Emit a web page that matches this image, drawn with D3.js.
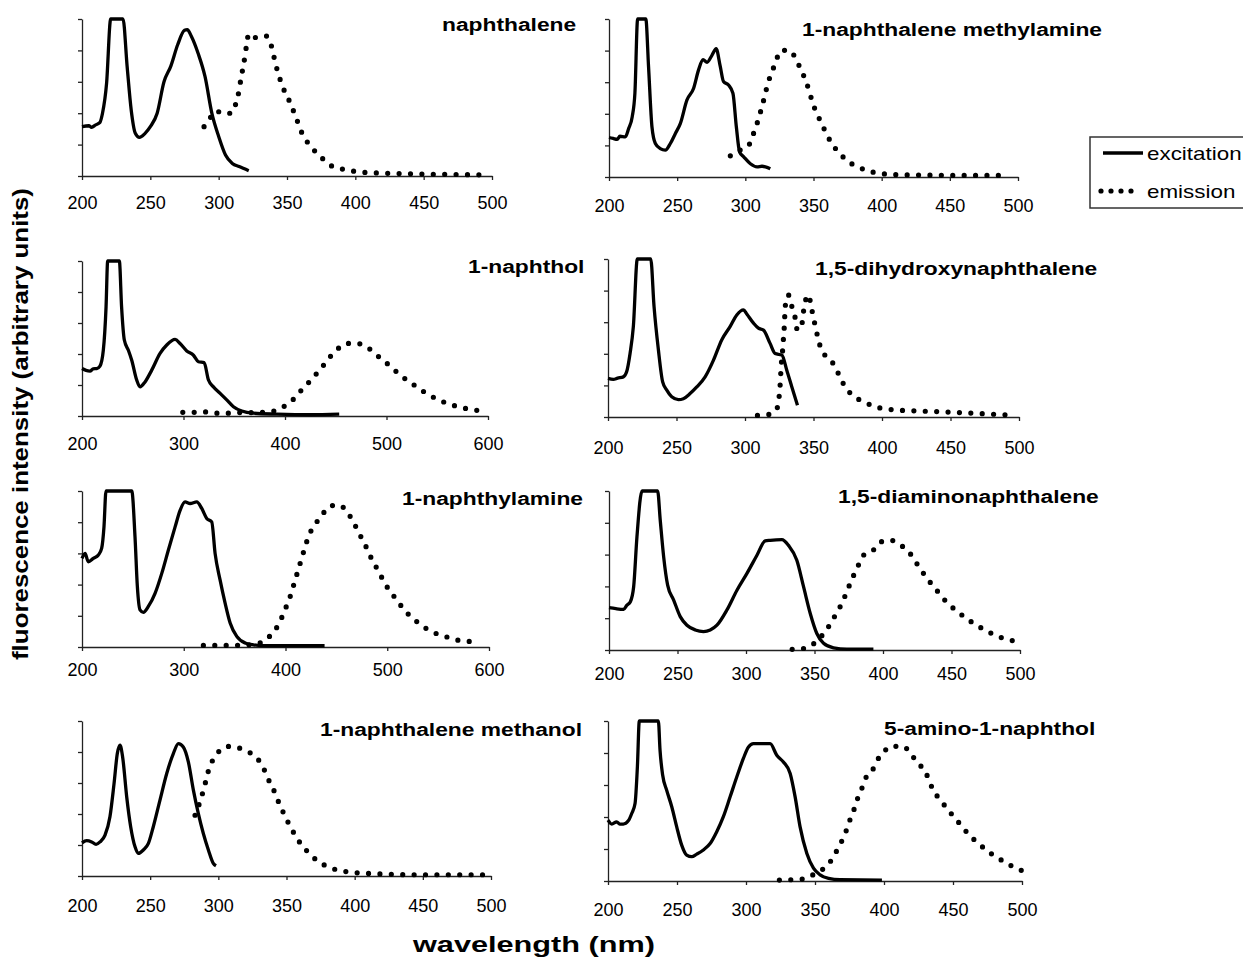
<!DOCTYPE html>
<html>
<head>
<meta charset="utf-8">
<script src="https://cdn.jsdelivr.net/npm/d3@7"></script>
<style>
body { margin: 0; background: #fff; }
text { font-family: "Liberation Sans", Arial, sans-serif; }
</style>
</head>
<body>
<svg id="chart" width="1243" height="963"></svg>
<script>
// spectra: [wavelength nm, intensity 0..5]
const naphthaleneEx = [[200,1.57],[205,1.6],[207,1.55],[210,1.63],[213,1.7],[215,2.0],[218,2.96],[221,5],[230,5],[233,3.5],[236,2.1],[239,1.36],[242,1.23],[246,1.35],[250,1.57],[255,2.0],[260,3.0],[265,3.5],[270,4.18],[275,4.64],[277,4.66],[280,4.45],[285,3.9],[290,3.17],[295,2.0],[300,1.26],[305,0.67],[310,0.4],[315,0.3],[322,0.17]];
const naphthaleneEm = [[289.3,1.57],[294.1,1.87],[298,2.07],[304,1.98],[310,2.02],[313,2.38],[315,2.74],[316.3,3.1],[317.8,3.45],[319.3,3.83],[320.5,4.2],[322,4.53],[327,4.41],[334,4.47],[338,4.23],[340,3.88],[342,3.51],[344.4,3.15],[347,2.82],[350.7,2.49],[354,2.15],[357,1.82],[360,1.46],[364,1.14],[369,0.86],[375,0.6],[381,0.36],[389,0.24],[397.6,0.16],[405.6,0.12],[414,0.1],[430,0.08],[450,0.06],[470,0.05],[498,0.03]];

const methylamineEx = [[200,1.25],[203,1.22],[206,1.19],[208,1.29],[212,1.27],[214.4,1.53],[217,1.9],[219,2.65],[221,5],[227,5],[229,3.5],[231.5,1.59],[234,1.06],[237.6,0.9],[241.3,0.85],[245,1.06],[248.7,1.38],[252.3,1.69],[257.2,2.44],[262,2.8],[265.7,3.39],[269,3.71],[271.9,3.63],[275.5,3.85],[278.6,4.06],[281.6,3.5],[284,3.02],[287.7,2.91],[290.9,2.65],[293.4,1.59],[295.8,0.79],[298.8,0.64],[303.7,0.42],[308.6,0.32],[312.2,0.34],[318.3,0.26]];
const methylamineEm = [[289,0.67],[296,0.85],[302.4,1.0],[305.6,1.33],[308.5,1.68],[311,2.04],[313.2,2.39],[315.2,2.74],[317.4,3.08],[319.8,3.35],[322.5,3.68],[326.4,4.01],[332.5,4.0],[337.4,3.71],[340.8,3.39],[344.3,3.05],[347,2.7],[349.4,2.34],[352.6,2.0],[356.2,1.67],[359.9,1.33],[364,1.02],[368.9,0.77],[374.6,0.51],[381.9,0.34],[389.2,0.2],[398.3,0.12],[406.4,0.08],[430,0.06],[460,0.05],[491,0.05]];

const naphtholEx = [[200,1.53],[204,1.47],[207.9,1.45],[211,1.52],[214.5,1.53],[217.7,1.61],[221,2.12],[223.7,3.52],[225.3,5],[236.8,5],[239,3.52],[241.7,2.45],[245.7,2.12],[249,1.8],[253.9,1.16],[257.2,0.94],[262.1,1.1],[268.7,1.48],[276.9,2.02],[283.5,2.29],[291.7,2.47],[296.6,2.34],[303.2,2.1],[309.8,1.96],[314.7,1.75],[320.3,1.72],[324.6,1.16],[329.5,0.94],[336.1,0.73],[342.6,0.52],[349.2,0.3],[357.4,0.16],[368.9,0.09],[391.9,0.06],[424.8,0.04],[453.4,0.06]];
const naphtholEm = [[299.3,0.12],[310.4,0.12],[321.6,0.13],[332.8,0.09],[344,0.09],[355.1,0.11],[366.3,0.11],[377.5,0.12],[388.7,0.16],[398.5,0.3],[407.7,0.52],[415,0.79],[422.5,1.05],[430.1,1.33],[437.3,1.61],[443.9,1.89],[451.8,2.16],[461,2.34],[470.8,2.34],[480.7,2.23],[488.9,2.0],[497.1,1.79],[506,1.54],[514.2,1.3],[523.4,1.09],[532.3,0.88],[541.5,0.69],[551.4,0.52],[561.5,0.39],[572.7,0.28],[583.6,0.21],[594.4,0.16]];

const dihydroxyEx = [[200,1.22],[203.9,1.19],[207,1.23],[211.2,1.27],[213.6,1.43],[216.1,2.01],[218.5,2.86],[221.4,5],[231.2,5],[233.6,3.5],[236.8,2.12],[239.9,1.11],[242.9,0.85],[246.5,0.64],[251.4,0.55],[255,0.58],[259.9,0.74],[264.8,0.95],[270.9,1.27],[277,1.8],[283,2.44],[289.1,2.86],[294,3.23],[298.9,3.39],[301.3,3.26],[306.2,2.97],[309.8,2.81],[313.5,2.75],[318.3,2.33],[322,2.01],[326.9,1.96],[330.5,1.48],[334.2,0.95],[338.3,0.37]];
const dihydroxyEm = [[309.1,0.05],[317.4,0.08],[323.2,0.26],[324.9,0.64],[325.6,0.98],[326.1,1.38],[326.6,1.72],[327.3,2.03],[328,2.44],[328.6,2.8],[329,3.18],[329.5,3.54],[331.7,3.86],[334.2,3.5],[336.6,3.14],[337.8,2.8],[340.7,2.77],[342.2,3.14],[343.2,3.5],[346.4,3.86],[348.3,3.5],[350,3.14],[351.7,2.8],[353.6,2.44],[356.1,2.09],[361.4,1.85],[366.1,1.57],[369.5,1.24],[373.6,0.93],[379.2,0.66],[386.5,0.49],[393.8,0.34],[402.1,0.26],[410.4,0.22],[426.9,0.19],[452.3,0.15],[475,0.1],[495.1,0.06]];

const naphthylamineEx = [[200,2.84],[203,3.0],[206.2,2.73],[211.1,2.84],[216.1,2.95],[219.3,3.16],[221.6,3.85],[223.6,5],[248.9,5],[252.1,3.53],[254.4,1.94],[257,1.19],[260.3,1.11],[265.2,1.3],[271.8,1.72],[278.4,2.36],[284.9,3.11],[291.5,3.85],[296.4,4.38],[301.3,4.65],[306.2,4.6],[312.8,4.65],[317.7,4.44],[322.6,4.12],[327.5,4.01],[330.8,3.0],[335.7,2.15],[340.7,1.4],[345.6,0.77],[352.1,0.34],[360.3,0.13],[368.5,0.07],[381.6,0.04],[438.4,0.04]];
const naphthylamineEm = [[319.3,0.05],[341.6,0.05],[363.9,0.07],[375.1,0.13],[384.3,0.34],[391.1,0.61],[396.4,0.95],[400.7,1.29],[404.6,1.62],[407.9,1.97],[411.1,2.32],[414.4,2.68],[417.7,3.04],[421,3.39],[424.9,3.71],[430.8,4.01],[437.4,4.3],[444.9,4.53],[453.8,4.54],[458.7,4.4],[464.6,4.13],[469.8,3.81],[474.8,3.49],[480,3.16],[484.6,2.83],[489.8,2.52],[495.1,2.2],[500.7,1.88],[507.2,1.6],[514.1,1.3],[521.3,1.03],[529.5,0.8],[538,0.6],[547.5,0.44],[558.7,0.32],[569.2,0.22],[580,0.18],[591.5,0.13]];

const diaminoEx = [[200,1.33],[205,1.3],[210.7,1.28],[213.1,1.41],[215.6,1.52],[218,1.99],[220.4,3.56],[224.1,5],[235.5,5],[237.4,4.08],[239.9,2.93],[242.8,2.04],[247.2,1.57],[252,1.05],[256.9,0.78],[263,0.63],[269,0.58],[273.9,0.63],[278.8,0.78],[286.1,1.26],[293.4,1.88],[300.7,2.41],[308,2.98],[314,3.43],[317.7,3.45],[326.2,3.47],[331,3.29],[337.1,2.82],[342,1.99],[346.9,1.15],[351.7,0.52],[356.6,0.21],[363.9,0.07],[373.6,0.03],[393,0.03]];
const diaminoEm = [[333.7,0.02],[342.5,0.05],[349.8,0.21],[355.4,0.45],[360.2,0.73],[364.6,1.05],[368.7,1.36],[372.4,1.71],[375.5,2.04],[378.9,2.38],[382.3,2.69],[386,2.99],[389,3.05],[392.6,3.13],[397.9,3.39],[405.7,3.45],[412.7,3.3],[418.6,3.1],[423.4,2.8],[428.1,2.5],[432.9,2.21],[438.3,1.93],[443.6,1.64],[449,1.4],[455.5,1.17],[461.9,0.96],[468.7,0.77],[476.2,0.59],[483.5,0.43],[491.8,0.33],[499.5,0.23]];

const methanolEx = [[200,1.07],[203.4,1.14],[207.1,1.1],[210.3,1.02],[213.2,1.1],[216.9,1.32],[220.5,1.91],[223.5,2.98],[225.9,3.95],[227.9,4.22],[229.8,3.84],[232.8,2.55],[235.7,1.59],[238.9,0.94],[241.3,0.73],[245,0.84],[248.7,1.05],[252.3,1.59],[257.2,2.45],[262.1,3.3],[267,3.95],[270.7,4.27],[274.3,4.16],[278,3.68],[281.7,2.77],[285.3,2.02],[289,1.37],[292.7,0.84],[296.3,0.41],[298.3,0.33]];
const methanolEm = [[282.9,1.96],[286.1,2.34],[288.5,2.68],[290.7,3.04],[292.7,3.39],[295.8,3.73],[300.7,4.03],[306.8,4.18],[314.2,4.14],[320.8,4.03],[326.9,3.86],[331,3.65],[334.5,3.35],[337.9,3.0],[341.6,2.68],[344.7,2.33],[348.2,2.0],[352.1,1.65],[356.2,1.33],[360.6,1.03],[366.3,0.75],[372.1,0.51],[378.9,0.33],[386.8,0.2],[395.6,0.13],[412.2,0.08],[445.5,0.04],[495.6,0.04]];

const aminoNaphtholEx = [[200,1.9],[202.7,1.78],[206.3,1.85],[208.5,1.78],[211.1,1.78],[214.7,1.88],[217.2,2.11],[219.6,2.42],[221.3,3.57],[222.7,5],[236.5,5],[237.7,4.09],[239.6,3.31],[242.5,2.84],[246.2,2.32],[249.8,1.69],[253.4,1.12],[257,0.81],[260.7,0.76],[264.3,0.84],[269.1,0.97],[274,1.17],[278.8,1.54],[283.6,2.01],[288.5,2.63],[293.3,3.25],[298.1,3.83],[301.8,4.19],[305.4,4.29],[317.5,4.29],[322.3,3.93],[327.1,3.72],[332,3.36],[335.6,2.63],[339.2,1.69],[344.1,0.86],[348.9,0.4],[353.7,0.19],[359.8,0.08],[368.2,0.04],[398.5,0.03]];
const aminoNaphtholEm = [[324.2,0.03],[340.7,0.06],[348.4,0.19],[355.7,0.37],[361,0.6],[365.3,0.91],[369.2,1.23],[372.6,1.57],[375.5,1.93],[378.4,2.25],[380.8,2.57],[384,2.9],[386.9,3.23],[391.2,3.42],[394.3,3.71],[399.7,4.03],[405.7,4.21],[413,4.21],[419,4.02],[423.8,3.7],[429.9,3.43],[433,3.1],[435.9,2.82],[440.8,2.54],[446.1,2.24],[451.6,1.96],[457.2,1.67],[462.5,1.4],[468.6,1.18],[474.6,0.94],[481.9,0.75],[488.6,0.55],[495.4,0.42],[500,0.32]];

const titles = ["naphthalene", "1-naphthalene methylamine", "1-naphthol", "1,5-dihydroxynaphthalene",
  "1-naphthylamine", "1,5-diaminonaphthalene", "1-naphthalene methanol", "5-amino-1-naphthol"];
const xMaxes = [500, 500, 600, 500, 600, 500, 500, 500];
const excitation = [naphthaleneEx, methylamineEx, naphtholEx, dihydroxyEx, naphthylamineEx, diaminoEx, methanolEx, aminoNaphtholEx];
const emission = [naphthaleneEm, methylamineEm, naphtholEm, dihydroxyEm, naphthylamineEm, diaminoEm, methanolEm, aminoNaphtholEm];
const legendLabels = ["excitation", "emission"];

// panel frames: [left, right, top, bottom, label gap, title x, title baseline]
const frames = [
  [82, 492, 19, 176, 27, 442, 31],
  [609, 1018, 19, 177, 29, 802, 36],
  [82, 488, 261, 416, 28, 468, 273],
  [608, 1019, 259, 417, 31, 815, 275],
  [82, 489, 491, 647, 23, 402, 505],
  [609, 1020, 491, 650, 24, 838, 503],
  [82, 491, 721, 876, 30, 320, 736],
  [608, 1022, 721, 881, 29, 884, 735]
];

const stretch = 1.2;
const svg = d3.select('#chart');

function drawPanel(i) {
  const f = frames[i];
  const xMax = xMaxes[i];
  const x = d3.scaleLinear().domain([200, xMax]).range([f[0], f[1]]);
  const y = d3.scaleLinear().domain([0, 5]).range([f[3], f[2]]);
  const g = svg.append('g');

  const step = xMax == 600 ? 100 : 50;
  const xAxis = d3.axisBottom(x)
    .tickValues(d3.range(200, xMax + 1, step))
    .tickSize(4).tickSizeOuter(0)
    .tickPadding(f[4] - 6.4 - 4);
  g.append('g').attr('transform', `translate(0,${f[3]})`).call(xAxis)
    .call(a => a.selectAll('text').attr('font-size', 18).attr('fill', '#000')
      .style('font-family', '"Liberation Sans", Arial, sans-serif'));

  const yAxis = d3.axisLeft(y).tickValues([0, 1, 2, 3, 4, 5]).tickFormat('')
    .tickSize(4).tickSizeOuter(0);
  g.append('g').attr('transform', `translate(${f[0]},0)`).call(yAxis);

  g.selectAll('.domain, .tick line').attr('stroke', '#222').attr('stroke-width', 1.3);

  const line = d3.line().x(d => x(d[0])).y(d => y(d[1])).curve(d3.curveMonotoneX);

  g.append('path')
    .datum(emission[i])
    .attr('d', line)
    .attr('fill', 'none')
    .attr('stroke', '#000')
    .attr('stroke-width', 5.2)
    .attr('stroke-linecap', 'round')
    .attr('stroke-dasharray', '0 11.4');

  g.append('path')
    .datum(excitation[i])
    .attr('d', line)
    .attr('fill', 'none')
    .attr('stroke', '#000')
    .attr('stroke-width', 3.3)
    .attr('stroke-linejoin', 'round');

  g.append('text')
    .attr('transform', `translate(${f[5]},${f[6]}) scale(${stretch},1)`)
    .attr('font-size', 19)
    .attr('font-weight', 'bold')
    .attr('fill', '#000')
    .text(titles[i]);
}

for (let i = 0; i < titles.length; i++) drawPanel(i);

// axis titles
svg.append('text')
  .attr('x', 534).attr('y', 952)
  .attr('text-anchor', 'middle')
  .attr('font-size', 22).attr('font-weight', 'bold').attr('fill', '#000')
  .attr('textLength', 242).attr('lengthAdjust', 'spacingAndGlyphs')
  .text('wavelength (nm)');

svg.append('text')
  .attr('transform', 'translate(28,424) rotate(-90)')
  .attr('text-anchor', 'middle')
  .attr('font-size', 22).attr('font-weight', 'bold').attr('fill', '#000')
  .attr('textLength', 472).attr('lengthAdjust', 'spacingAndGlyphs')
  .text('fluorescence intensity (arbitrary units)');

// legend
const legend = svg.append('g');
legend.append('rect')
  .attr('x', 1090).attr('y', 137).attr('width', 170).attr('height', 71)
  .attr('fill', '#fff').attr('stroke', '#333').attr('stroke-width', 1.5);
legend.append('line')
  .attr('x1', 1103).attr('x2', 1143).attr('y1', 153).attr('y2', 153)
  .attr('stroke', '#000').attr('stroke-width', 3.3);
legend.append('line')
  .attr('x1', 1101).attr('x2', 1132).attr('y1', 191).attr('y2', 191)
  .attr('stroke', '#000').attr('stroke-width', 5.2)
  .attr('stroke-linecap', 'round').attr('stroke-dasharray', '0 10');
legend.selectAll('text.lab')
  .data(legendLabels)
  .enter()
  .append('text')
  .attr('class', 'lab')
  .attr('transform', (d, i) => `translate(1147,${159.5 + i * 38}) scale(1.245,1)`)
  .attr('font-size', 18).attr('fill', '#000')
  .text(d => d);
</script>
</body>
</html>
